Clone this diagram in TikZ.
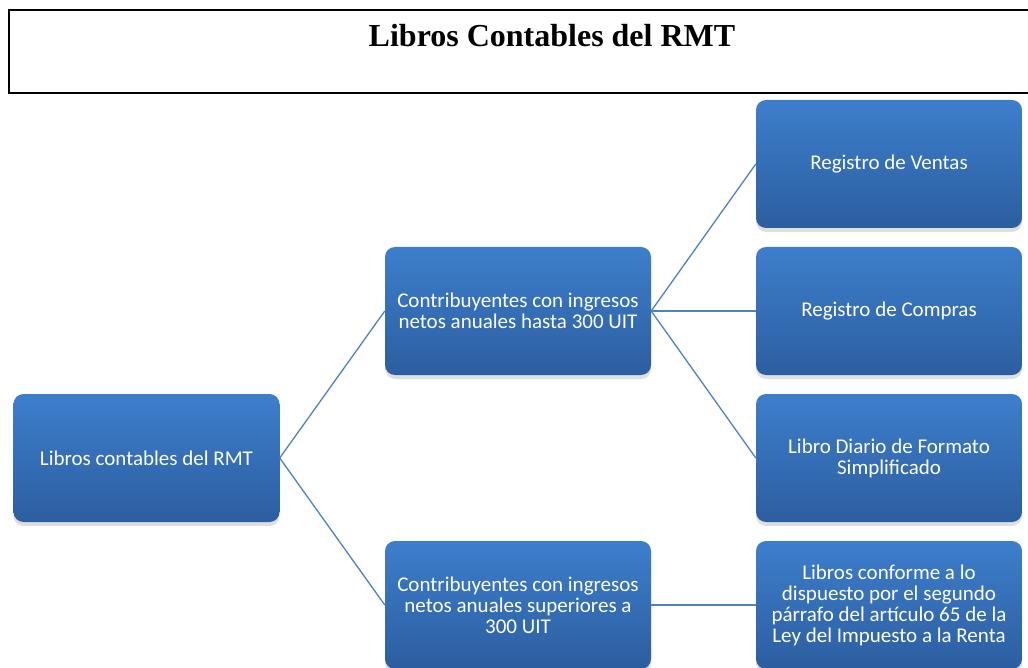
\documentclass[tikz,border=0pt]{standalone}
\usepackage{fontspec}
\setmainfont{Liberation Serif}
\newfontfamily\cuadrofont{Carlito}
\usetikzlibrary{positioning, shadows}
\definecolor{azulArriba}{RGB}{61,126,204}
\definecolor{azulAbajo}{RGB}{44,94,160}
\definecolor{azulLinea}{RGB}{79,129,189}
\tikzset{
  cuadro/.style = {rectangle, rounded corners=10pt, align=center,
    minimum width=266pt, minimum height=128pt, inner sep=2pt,
    top color=azulArriba, bottom color=azulAbajo, draw=none, white,
    font=\cuadrofont\fontsize{21}{21}\selectfont,
    drop shadow={shadow xshift=0pt, shadow yshift=-4pt, opacity=0.25}},% caja azul
  rama/.style = {draw=azulLinea, line width=1.3pt}% conector
}
\begin{document}
\begin{tikzpicture}[x=1pt, y=-1pt]
\useasboundingbox (0,0) rectangle (1028,668);
% marco del titulo
\draw[line width=2pt] (1030,10) -| (9,93) -- (1030,93);
\node (titulo) at (552,36) {\fontsize{32}{36}\selectfont\bfseries Libros Contables del RMT};

\node (raiz) [cuadro] at (146.5,458) {Libros contables del RMT};
\node (hasta) [cuadro] at (518,311) {Contribuyentes con ingresos\\netos anuales hasta 300 UIT};
\node (sup) [cuadro] at (518,605) {Contribuyentes con ingresos\\netos anuales superiores a\\300 UIT};
\node (ventas) [cuadro] at (889,164) {Registro de Ventas};
\node (compras) [cuadro] at (889,311) {Registro de Compras};
\node (diario) [cuadro] at (889,458) {Libro Diario de Formato\\Simplificado};
\node (libros) [cuadro] at (889,605) {Libros conforme a lo\\dispuesto por el segundo\\p\'arrafo del art\'iculo 65 de la\\Ley del Impuesto a la Renta};

\draw[rama] (raiz.east) -- (hasta.west);
\draw[rama] (raiz.east) -- (sup.west);
\draw[rama] (hasta.east) -- (ventas.west);
\draw[rama] (hasta.east) -- (compras.west);
\draw[rama] (hasta.east) -- (diario.west);
\draw[rama] (sup.east) -- (libros.west);
\end{tikzpicture}
\end{document}
